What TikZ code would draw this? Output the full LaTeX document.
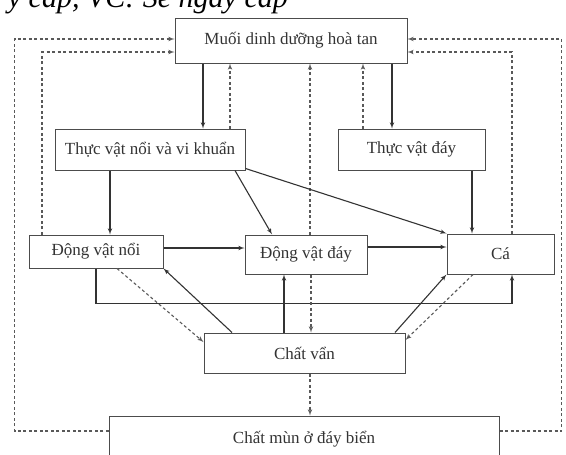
\documentclass[tikz,border=0pt]{standalone}
\usepackage{fontspec}
\setmainfont{Liberation Serif}
\usetikzlibrary{arrows}

\begin{document}
\begin{tikzpicture}[x=1pt, y=-1pt, font=\fontsize{17}{20}\selectfont]
\tikzset{
    boxnode/.style={rectangle, draw=black!70, line width=1pt, fill=white, text=black!80, inner sep=0pt, text centered},
    solidarrow/.style={->, >=latex', line width=1.1pt, draw=black!80},
    dasharrow/.style={->, >=latex', line width=1.1pt, draw=black!65, dash pattern=on 3pt off 2.5pt},
    captext/.style={font=\fontsize{30}{34}\selectfont\itshape, text=black, inner sep=0pt}
}
\useasboundingbox (0,0) rectangle (566,455);

\node[captext, anchor=base east] (cap) at (288,8) {y cấp, VC: Sê ngày cấp};

\node[boxnode, minimum width=232pt, minimum height=45pt] (muoi) at (291,40.5) {Muối dinh dưỡng hoà tan};
\node[boxnode, minimum width=190pt, minimum height=41pt] (tvnoi) at (150,149.5) {Thực vật nổi và vi khuẩn};
\node[boxnode, minimum width=147pt, minimum height=41pt] (tvday) at (411.5,149.5) {Thực vật đáy};
\node[boxnode, minimum width=134pt, minimum height=33pt] (dvnoi) at (96,251.5) {Động vật nổi};
\node[boxnode, minimum width=122pt, minimum height=39pt] (dvday) at (306,254.5) {Động vật đáy};
\node[boxnode, minimum width=107pt, minimum height=40pt] (ca) at (500.5,254) {Cá};
\node[boxnode, minimum width=201pt, minimum height=40pt] (chatvan) at (304.5,353) {Chất vẩn};
\node[boxnode, minimum width=390pt, minimum height=46pt] (chatmun) at (304,439) {Chất mùn ở đáy biển};

% muoi <-> thuc vat
\draw[solidarrow] ([xshift=-88pt]muoi.south) -- ([xshift=-88pt]muoi.south |- tvnoi.north);
\draw[dasharrow] ([xshift=80pt]tvnoi.north) -- ([xshift=80pt]tvnoi.north |- muoi.south);
\draw[dasharrow] ([xshift=4pt]dvday.north) -- ([xshift=4pt]dvday.north |- muoi.south);
\draw[dasharrow] ([xshift=-48.5pt]tvday.north) -- ([xshift=-48.5pt]tvday.north |- muoi.south);
\draw[solidarrow] ([xshift=101pt]muoi.south) -- ([xshift=101pt]muoi.south |- tvday.north);

% return paths to muoi
\draw[dasharrow] ([yshift=8pt]chatmun.west) -- ++(-94,0) |- ([yshift=1.5pt]muoi.west);
\draw[dasharrow] ([xshift=-54pt]dvnoi.north) |- ([yshift=-11.5pt]muoi.west);
\draw[dasharrow] ([yshift=8pt]chatmun.east) -- ++(62,0) |- ([yshift=1.5pt]muoi.east);
\draw[dasharrow] ([xshift=11.5pt]ca.north) |- ([yshift=-11.5pt]muoi.east);

% food chain
\draw[solidarrow] ([xshift=-40pt]tvnoi.south) -- ([xshift=-40pt]tvnoi.south |- dvnoi.north);
\draw[solidarrow] ([xshift=85pt]tvnoi.south) -- ([xshift=-34pt]dvday.north);
\draw[solidarrow] ([yshift=2pt]tvnoi.south east) -- (ca.north west);
\draw[solidarrow] ([xshift=60.5pt]tvday.south) -- ([xshift=60.5pt]tvday.south |- ca.north);
\draw[solidarrow] ([yshift=3.5pt]dvnoi.east) -- ([yshift=3.5pt]dvnoi.east -| dvday.west);
\draw[solidarrow] ([yshift=7.5pt]dvday.east) -- ([yshift=7.5pt]dvday.east -| ca.west);
\draw[solidarrow] (dvnoi.south) -- ++(0,35) -| ([xshift=11.5pt]ca.south);

% chat van
\draw[solidarrow] ([xshift=-72.5pt]chatvan.north) -- (dvnoi.south east);
\draw[dasharrow] ([xshift=21pt]dvnoi.south) -- ([yshift=11pt]chatvan.west);
\draw[solidarrow] ([xshift=-20.5pt]chatvan.north) -- ([xshift=-20.5pt]chatvan.north |- dvday.south);
\draw[dasharrow] ([xshift=5pt]dvday.south) -- ([xshift=5pt]dvday.south |- chatvan.north);
\draw[solidarrow] ([xshift=90.5pt]chatvan.north) -- (ca.south west);
\draw[dasharrow] ([xshift=-27.5pt]ca.south) -- ([yshift=13pt]chatvan.east);
\draw[dasharrow] ([xshift=5.5pt]chatvan.south) -- ([xshift=5.5pt]chatvan.south |- chatmun.north);

\end{tikzpicture}
\end{document}
